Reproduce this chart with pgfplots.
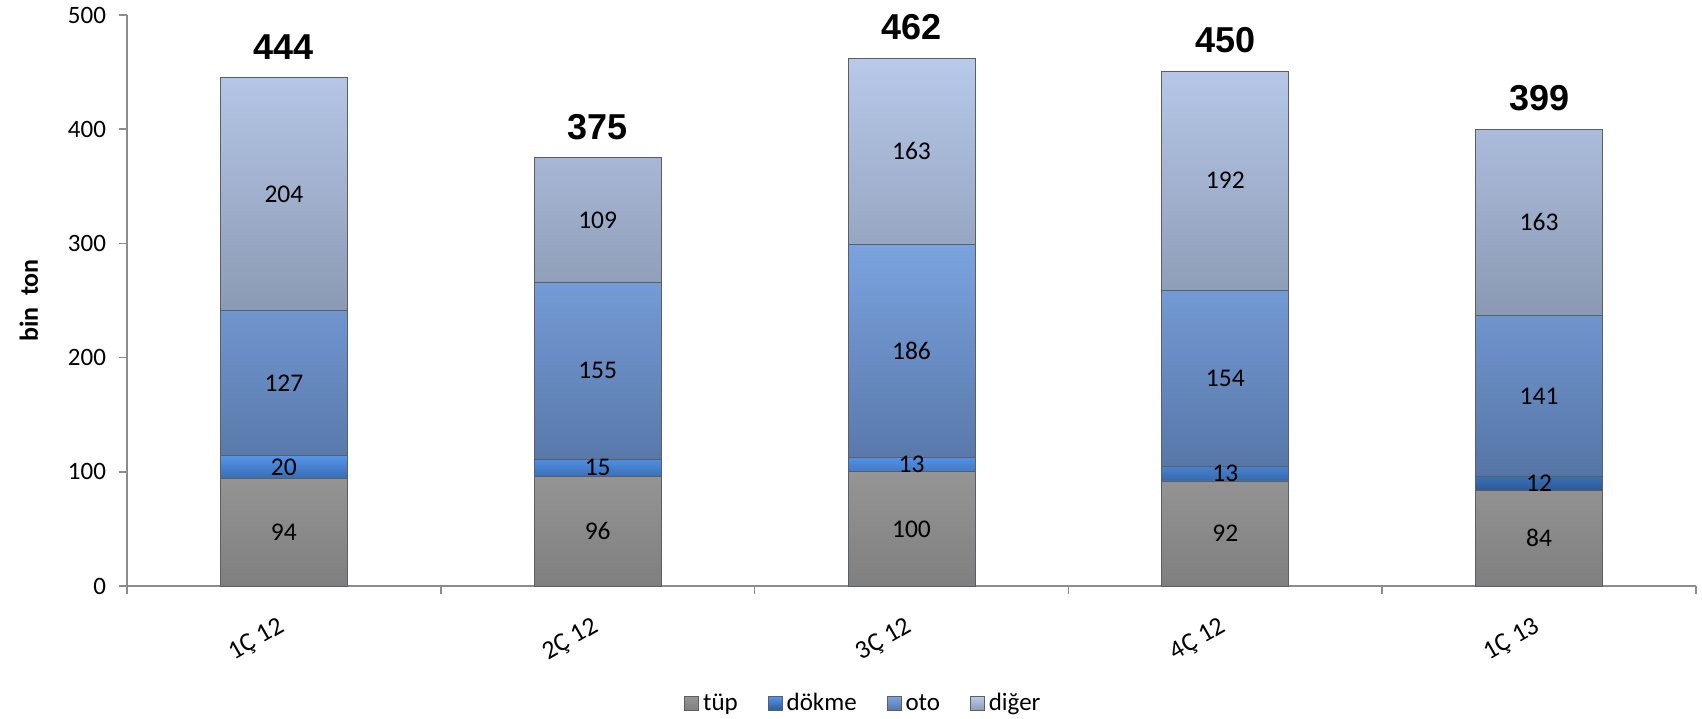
\documentclass[border=0pt]{standalone}
\usepackage{pgfplots}
\pgfplotsset{compat=1.18}
\usepackage{fontspec}
\setmainfont{Carlito}
\newfontfamily\arialfont{Liberation Sans}
\definecolor{tupT}{HTML}{959595}
\definecolor{tupB}{HTML}{7F7F7F}
\definecolor{dokT}{HTML}{5494EA}
\definecolor{dokB}{HTML}{2B5994}
\definecolor{otoT}{HTML}{7AA3DF}
\definecolor{otoB}{HTML}{5675A6}
\definecolor{digT}{HTML}{B8C9EA}
\definecolor{digB}{HTML}{8A99B3}
\definecolor{axisgray}{HTML}{8C8C8C}
\definecolor{edge}{HTML}{5A5F66}
\pgfplotsset{
  commonaxis/.style={
    at={(0,0)}, anchor=south west,
    scale only axis, width=784.5pt, height=285.5pt,
    xmin=-0.5, xmax=4.5, ymin=0, ymax=500,
  },
}
\begin{document}
\begin{tikzpicture}
\useasboundingbox (-63.5pt,-66pt) rectangle (787.5pt,293pt);
\begin{axis}[
  commonaxis,
  ybar stacked, bar width=63.5pt,
  ytick={0,100,...,500},
  xtick={-0.5,0.5,...,4.5},
  x tick label as interval,
  xticklabels={1Ç 12,2Ç 12,3Ç 12,4Ç 12,1Ç 13},
  axis lines*=left,
  axis line style={axisgray, line width=0.8pt},
  tick style={axisgray, line width=0.8pt},
  tick align=outside,
  major tick length=4pt,
  /pgf/number format/assume math mode=true,
  tick label style={font=\fontsize{12.5}{14}\selectfont, black},
  yticklabel style={xshift=-3pt},
  xticklabel style={xshift=-13.5pt, yshift=-23pt, rotate=30, anchor=center, font=\fontsize{13}{15}\selectfont},
  ylabel={\bfseries bin\ \ ton},
  ylabel style={at={(axis description cs:-0.0625,0.5)}, anchor=center, font=\fontsize{13}{15}\selectfont},
  legend style={at={(axis description cs:0.47,-0.206)}, anchor=center, draw=none,
    font=\fontsize{12.5}{14}\selectfont, legend columns=4,
    /tikz/every even column/.append style={column sep=13pt},
    inner sep=0pt},
  legend image code/.code={\path[#1] (0pt,-3.5pt) rectangle (7pt,3.5pt);},
  every axis plot/.append style={draw=edge, line width=0.4pt},
  seglabel/.style={nodes near coords, point meta=explicit,
    every node near coord/.style={anchor=center, black,
      font=\fontsize{12.75}{14}\selectfont}},
]
\addplot[top color=tupT, bottom color=tupB, seglabel] table[x=x, y=v, meta=v] {
x v
0 94
1 96
2 100
3 92
4 84
};
\addlegendentry{tüp}
\addplot[top color=dokT, bottom color=dokB, seglabel] table[x=x, y=v, meta=v] {
x v
0 20
1 15
2 13
3 13
4 12
};
\addlegendentry{dökme}
\addplot[top color=otoT, bottom color=otoB, seglabel] table[x=x, y=v, meta=v] {
x v
0 127
1 155
2 186
3 154
4 141
};
\addlegendentry{oto}
\addplot[top color=digT, bottom color=digB, seglabel] table[x=x, y=v, meta=v] {
x v
0 204
1 109
2 163
3 192
4 163
};
\addlegendentry{diğer}
\end{axis}
\begin{axis}[
  commonaxis,
  hide axis, clip=false,
]
\addplot[draw=none, mark=none, nodes near coords, point meta=explicit symbolic,
  every node near coord/.style={anchor=center, yshift=15.5pt, black,
    font=\arialfont\bfseries\fontsize{18}{20}\selectfont}] table[x=x, y=top, meta=t] {
x top t
0 445 444
1 375 375
2 462 462
3 451 450
4 400 399
};
\end{axis}
\end{tikzpicture}
\end{document}
